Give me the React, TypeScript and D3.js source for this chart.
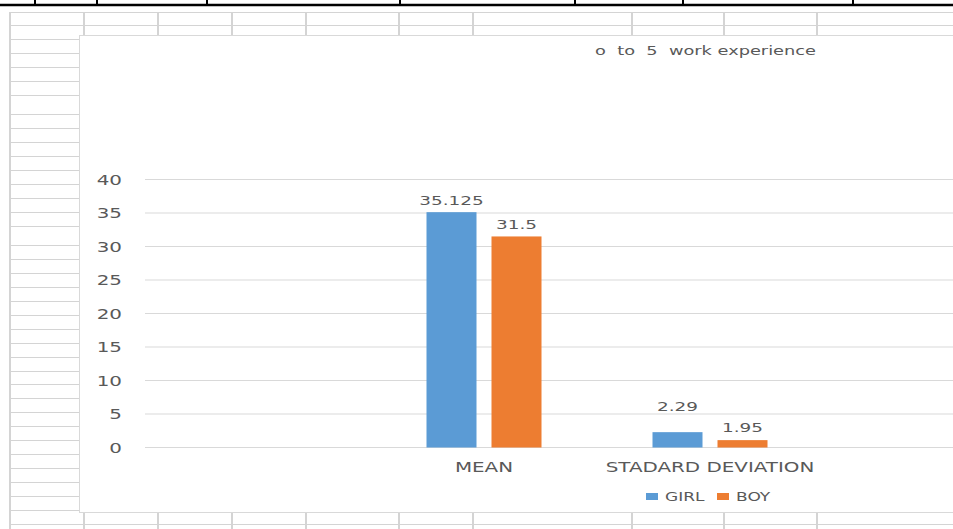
import React from "react";
import * as d3 from "d3";

// ---- chart data ----
const categories = ["", "MEAN", "STADARD DEVIATION", " "];
const seriesNames = ["GIRL", "BOY"];
const dataCategories = ["MEAN", "STADARD DEVIATION"];
const girlValues = [35.125, 2.29];
const boyValues = [31.5, 1.1];
const girlLabels = ["35.125", "2.29"];
const boyLabels = ["31.5", "1.95"];
const yTicks = [0, 5, 10, 15, 20, 25, 30, 35, 40];
const title = "o  to  5  work experience";

// ---- spreadsheet background (decoration) ----
const sheetRows = [12, 25, 39, 53, 67, 81, 95, 114, 128, 142, 156, 170, 184, 198, 212, 226, 245, 259, 273, 287, 301, 315, 329, 343, 357, 371, 384, 398, 412, 426, 440, 454, 468, 482, 496, 510, 524];
const sheetCols = [10, 84, 158, 232, 306, 399, 473, 632, 724, 817];
const headerTicks = [35, 97, 207, 400, 575, 683, 853];

const W = 953;
const H = 529;
const colors = ["#5B9BD5", "#ED7D31"];
const textColor = "#595959";
const gridColor = "#d9d9d9";
const sheetColor = "#d4d4d4";
const SX = 1.42; // horizontal stretch of the screenshot
const labelRaise = [[7, 21], [7, 8]]; // [series][category]

const chart = { x: 79, y: 35, bottom: 512 };

export default function App() {
  const x = d3.scaleBand<string>().domain(categories).range([145, 1049]).padding(0);
  const y = d3.scaleLinear().domain([0, 40]).range([447.5, 179.5]);
  const inner = d3.scaleBand<string>().domain(seriesNames).range([0, 115]).paddingInner(15 / 65);
  const series = [girlValues, boyValues];
  const labels = [girlLabels, boyLabels];
  const font = "'DejaVu Sans', Verdana, sans-serif";

  const stretched = (tx: number, ty: number, content: string, size: number, anchor: string, key?: string) => (
    <text
      key={key}
      transform={`translate(${tx},${ty}) scale(${SX},1)`}
      textAnchor={anchor as any}
      fontSize={size}
      fill={textColor}
      fontFamily={font}
    >
      {content}
    </text>
  );

  return (
    <svg width={W} height={H} style={{ position: "absolute", left: 0, top: 0, background: "#fff" }}>
      <rect x={0} y={0} width={W} height={H} fill="#fff" />
      {/* header black line */}
      <line x1={0} x2={W} y1={5} y2={5} stroke="#000" strokeWidth={2.5} />
      {headerTicks.map((t) => (
        <line key={"h" + t} x1={t} x2={t} y1={0} y2={5} stroke="#000" strokeWidth={2} />
      ))}
      {/* sheet grid */}
      {sheetRows.map((r) =>
        r < chart.y || r > chart.bottom ? (
          <line key={"r" + r} x1={10} x2={W} y1={r + 0.5} y2={r + 0.5} stroke={sheetColor} strokeWidth={1} />
        ) : (
          <line key={"r" + r} x1={10} x2={chart.x} y1={r + 0.5} y2={r + 0.5} stroke={sheetColor} strokeWidth={1} />
        )
      )}
      {sheetCols.map((c) => (
        <g key={"c" + c}>
          <line x1={c} x2={c} y1={12} y2={chart.y} stroke={sheetColor} strokeWidth={2} />
          <line x1={c} x2={c} y1={chart.bottom} y2={H} stroke={sheetColor} strokeWidth={2} />
        </g>
      ))}
      <line x1={10} x2={10} y1={12} y2={H} stroke={sheetColor} strokeWidth={2} />

      {/* chart area */}
      <rect x={chart.x + 0.5} y={chart.y + 0.5} width={W + 20 - chart.x} height={chart.bottom - chart.y} fill="#fff" stroke={gridColor} strokeWidth={1} />

      {/* title */}
      <text
        x={595}
        y={55}
        fontSize={13}
        fill={textColor}
        fontFamily={font}
        textLength={221}
        lengthAdjust="spacingAndGlyphs"
        style={{ whiteSpace: "pre" }}
        xmlSpace="preserve"
      >
        {title}
      </text>

      {/* gridlines + y labels */}
      {yTicks.map((t) => (
        <g key={"y" + t}>
          <line x1={145} x2={W} y1={y(t)} y2={y(t)} stroke={gridColor} strokeWidth={1} />
          {stretched(122, y(t) + 5, String(t), 14, "end")}
        </g>
      ))}

      {/* bars */}
      {series.map((vals, si) =>
        dataCategories.map((cat, ci) => {
          const cx = (x(cat) as number) + x.bandwidth() / 2 - 57.5;
          const bx = cx + (inner(seriesNames[si]) as number);
          const top = y(vals[ci]);
          return (
            <g key={`b${si}-${ci}`}>
              <rect x={bx} y={top} width={inner.bandwidth()} height={y(0) - top} fill={colors[si]} />
              {stretched(bx + inner.bandwidth() / 2, top - labelRaise[si][ci], labels[si][ci], 13, "middle")}
            </g>
          );
        })
      )}

      {/* category labels */}
      {dataCategories.map((cat) =>
        stretched((x(cat) as number) + x.bandwidth() / 2, 472, cat, 14, "middle", "cat" + cat)
      )}

      {/* legend */}
      {seriesNames.map((s, i) => {
        const lx = [646, 717][i];
        return (
          <g key={"l" + s}>
            <rect x={lx} y={493} width={12} height={7} fill={colors[i]} />
            {stretched(lx + 19, 501, s, 12, "start")}
          </g>
        );
      })}
    </svg>
  );
}
